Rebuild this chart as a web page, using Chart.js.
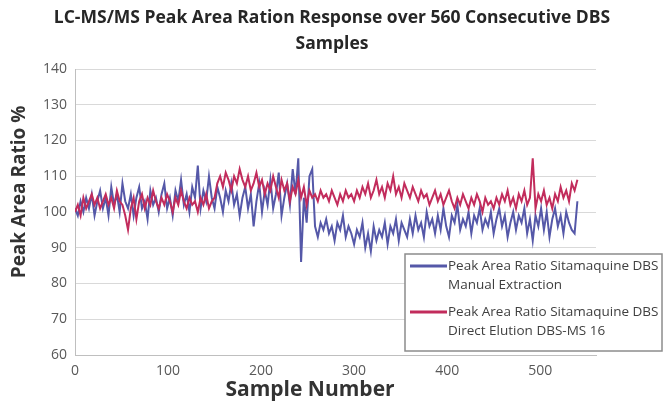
<!DOCTYPE html>
<html>
<head>
<meta charset="utf-8">
<script src="https://cdn.jsdelivr.net/npm/chart.js@4.4.0/dist/chart.umd.min.js"></script>
<style>
  html, body { margin: 0; padding: 0; background: #fff; }
  #wrap { width: 665px; height: 407px; }
</style>
</head>
<body>
<div id="wrap"><canvas id="peakChart" width="665" height="407"></canvas></div>
<script>
// Sample numbers (x) every 3 samples
const sampleNumbers = [
    0, 3, 6, 9, 12, 15, 18, 21, 24, 27,
    30, 33, 36, 39, 42, 45, 48, 51, 54, 57,
    60, 63, 66, 69, 72, 75, 78, 81, 84, 87,
    90, 93, 96, 99, 102, 105, 108, 111, 114, 117,
    120, 123, 126, 129, 132, 135, 138, 141, 144, 147,
    150, 153, 156, 159, 162, 165, 168, 171, 174, 177,
    180, 183, 186, 189, 192, 195, 198, 201, 204, 207,
    210, 213, 216, 219, 222, 225, 228, 231, 234, 237,
    240, 243, 246, 249, 252, 255, 258, 261, 264, 267,
    270, 273, 276, 279, 282, 285, 288, 291, 294, 297,
    300, 303, 306, 309, 312, 315, 318, 321, 324, 327,
    330, 333, 336, 339, 342, 345, 348, 351, 354, 357,
    360, 363, 366, 369, 372, 375, 378, 381, 384, 387,
    390, 393, 396, 399, 402, 405, 408, 411, 414, 417,
    420, 423, 426, 429, 432, 435, 438, 441, 444, 447,
    450, 453, 456, 459, 462, 465, 468, 471, 474, 477,
    480, 483, 486, 489, 492, 495, 498, 501, 504, 507,
    510, 513, 516, 519, 522, 525, 528, 531, 534, 537,
    540
];

// Peak Area Ratio Sitamaquine DBS - Manual Extraction (%)
const manualExtraction = [
    101, 99, 103, 100, 104, 101, 105, 99, 103, 106,
    101, 104, 99, 107, 102, 105, 100, 108, 103, 101,
    105, 99, 104, 107, 101, 103, 98, 106, 102, 104,
    100, 105, 108, 101, 104, 99, 106, 103, 109, 102,
    105, 100, 107, 104, 113, 101, 106, 103, 110, 104,
    101, 107, 104, 100, 106, 103, 108, 102, 105, 99,
    104, 107, 101, 105, 96, 103, 108, 100, 106, 102,
    109, 101, 105, 111, 99, 104, 108, 102, 112, 105,
    115, 86, 104, 97, 110, 112, 96, 93, 97, 95,
    98, 94, 96, 92, 97, 95, 99, 93, 96, 94,
    91, 95, 93, 97, 90, 94, 89, 96, 92, 95,
    93, 97, 91, 96, 94, 98, 92, 97, 95, 93,
    98, 94, 99, 95, 97, 93, 100, 96, 98, 94,
    99, 95, 101, 96, 93, 99, 97, 102, 95, 98,
    96, 100, 94, 99, 97, 101, 95, 98, 96, 100,
    94, 98, 101, 96, 99, 93, 97, 100, 95, 99,
    97, 101, 94, 98, 92, 99, 96, 101, 95, 100,
    93, 98, 101, 96, 99, 94, 100, 97, 95, 94,
    103
];

// Peak Area Ratio Sitamaquine DBS - Direct Elution DBS-MS 16 (%)
const directElution = [
    100, 102, 99, 104, 101, 103, 105, 102, 104, 101,
    103, 105, 102, 104, 101, 106, 103, 102, 99, 95,
    101, 104, 98, 103, 105, 101, 104, 102, 106, 103,
    101, 104, 102, 105, 103, 100, 104, 102, 106, 103,
    101, 104, 102, 103, 100, 104, 102, 105, 101, 103,
    104, 108, 110, 107, 111, 109, 106, 110, 108, 112,
    109, 107, 110, 106, 108, 111, 107, 109, 105, 108,
    106, 110, 107, 104, 109, 106, 108, 103, 107, 105,
    109, 104, 107, 102, 106, 104, 105, 103, 106, 104,
    105, 103, 106, 104, 102, 105, 103, 106, 104, 105,
    103, 106, 104, 107, 105, 108, 104, 106, 109, 105,
    107, 104, 108, 106, 110, 105, 107, 104, 108, 106,
    104, 107, 105, 103, 106, 104, 105, 102, 104, 106,
    103, 105, 102, 104, 106, 103, 101, 104, 102, 105,
    103, 101, 104, 102, 105, 103, 100, 104, 102, 103,
    101, 104, 102, 105, 103, 106, 102, 104, 101, 105,
    103, 106, 102, 104, 115, 101, 105, 103, 106, 102,
    104, 101, 105, 103, 107, 104, 106, 103, 108, 106,
    109
];

const xTickValues = [0, 100, 200, 300, 400, 500];
const titleLines = ['LC-MS/MS Peak Area Ration Response over 560 Consecutive DBS', 'Samples'];
const legendLines = [
    ['Peak Area Ratio Sitamaquine DBS', 'Manual Extraction'],
    ['Peak Area Ratio Sitamaquine DBS', 'Direct Elution DBS-MS 16']
];

const BLUE = '#5558a8';
const RED = '#c22c5c';
const FONT = '"Open Sans", "Noto Sans", sans-serif';

const toPoints = vals => vals.map((v, i) => ({ x: sampleNumbers[i], y: v }));

// titles, axis titles and the boxed legend are drawn by hand
const decorPlugin = {
    id: 'decor',
    beforeDraw(chart) {
        const ctx = chart.ctx;
        ctx.save();
        ctx.fillStyle = '#fff';
        ctx.fillRect(0, 0, chart.width, chart.height);
        ctx.restore();
    },
    afterDatasetsDraw(chart) {
        const ctx = chart.ctx;
        ctx.save();

        // chart title
        ctx.fillStyle = '#262626';
        ctx.font = 'bold 17.5px ' + FONT;
        ctx.textAlign = 'center';
        ctx.textBaseline = 'middle';
        ctx.fillText(titleLines[0], 332, 18);
        ctx.fillText(titleLines[1], 332, 44);

        // axis titles
        ctx.fillStyle = '#333';
        ctx.font = 'bold 21px ' + FONT;
        ctx.fillText('Sample Number', 310, 390);
        ctx.font = 'bold 19px ' + FONT;
        ctx.translate(20, 192);
        ctx.rotate(-Math.PI / 2);
        ctx.fillText('Peak Area Ratio %', 0, 0);
        ctx.setTransform(1, 0, 0, 1, 0, 0);

        // legend box
        const bx = 405, by = 254, bw = 257, bh = 97;
        ctx.fillStyle = '#fff';
        ctx.fillRect(bx, by, bw, bh);
        ctx.strokeStyle = '#8c8c8c';
        ctx.lineWidth = 1.5;
        ctx.strokeRect(bx, by, bw, bh);

        ctx.font = '13.5px ' + FONT;
        ctx.textAlign = 'left';
        const rowY = [266, 312];
        chart.data.datasets.forEach((ds, i) => {
            const y = rowY[i];
            ctx.strokeStyle = ds.borderColor;
            ctx.lineWidth = 3;
            ctx.beginPath();
            ctx.moveTo(410, y);
            ctx.lineTo(447, y);
            ctx.stroke();
            ctx.fillStyle = '#404040';
            ctx.fillText(legendLines[i][0], 448, y);
            ctx.fillText(legendLines[i][1], 448, y + 19);
        });
        ctx.restore();
    }
};

const ctx = document.getElementById('peakChart').getContext('2d');
new Chart(ctx, {
    type: 'line',
    data: {
        datasets: [{
            label: legendLines[0].join(' '),
            data: toPoints(manualExtraction),
            borderColor: BLUE,
            borderWidth: 2,
            pointRadius: 0,
            tension: 0,
            order: 1
        }, {
            label: legendLines[1].join(' '),
            data: toPoints(directElution),
            borderColor: RED,
            borderWidth: 2,
            pointRadius: 0,
            tension: 0,
            order: 0
        }]
    },
    options: {
        responsive: false,
        animation: false,
        devicePixelRatio: 1,
        layout: { padding: { top: 69, left: 30, right: 69, bottom: 0 } },
        plugins: {
            legend: { display: false },
            title: { display: false },
            tooltip: { enabled: false }
        },
        scales: {
            x: {
                type: 'linear',
                min: 0,
                max: 560,
                afterBuildTicks: s => { s.ticks = xTickValues.map(v => ({ value: v })); },
                afterFit: s => { s.height = 52; },
                ticks: { color: '#595959', font: { family: FONT, size: 14 }, padding: 0, maxRotation: 0 },
                grid: { display: false },
                border: { color: '#bfbfbf', width: 1 }
            },
            y: {
                min: 60,
                max: 140,
                ticks: { stepSize: 10, color: '#595959', font: { family: FONT, size: 14 }, padding: 8 },
                afterFit: s => { s.width = 45; },
                grid: { color: '#d9d9d9', drawTicks: false },
                border: { color: '#bfbfbf', width: 1 }
            }
        }
    },
    plugins: [decorPlugin]
});
</script>
</body>
</html>
